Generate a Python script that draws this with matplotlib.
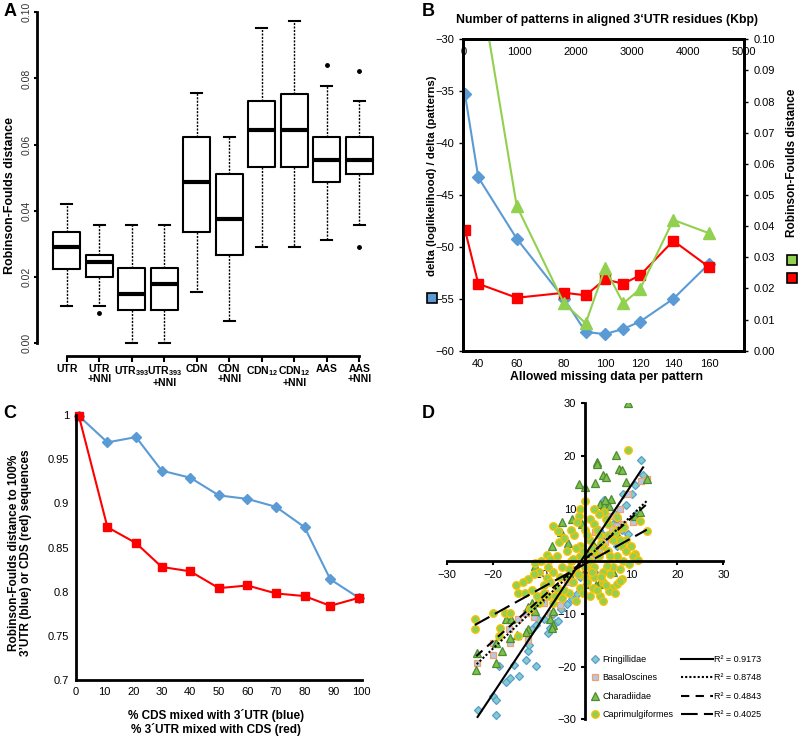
import numpy as np
import matplotlib
matplotlib.use('Agg')
import matplotlib.pyplot as plt
from matplotlib.patches import Rectangle
from matplotlib.ticker import FormatStrFormatter

plt.rcParams['font.family'] = ['Liberation Sans', 'DejaVu Sans']
plt.rcParams['mathtext.fontset'] = 'custom'
plt.rcParams['mathtext.rm'] = 'Liberation Sans:bold'
plt.rcParams['mathtext.default'] = 'rm'

# ---- panel A: RF distance box plots ----
a_labels = ['UTR', 'UTR\n+NNI', r'UTR$_{393}$', 'UTR$_{393}$\n+NNI', 'CDN', 'CDN\n+NNI',
            r'CDN$_{12}$', 'CDN$_{12}$\n+NNI', 'AAS', 'AAS\n+NNI']
a_whislo = [0.0112, 0.0112, 0.0, 0.0, 0.0156, 0.0067, 0.029, 0.029, 0.0311, 0.0358]
a_q1 = [0.0224, 0.0200, 0.0101, 0.0101, 0.0335, 0.0268, 0.0534, 0.0534, 0.0487, 0.0511]
a_med = [0.0290, 0.0246, 0.0150, 0.0178, 0.0487, 0.0377, 0.0645, 0.0645, 0.0555, 0.0555]
a_q3 = [0.0335, 0.0268, 0.0228, 0.0228, 0.0622, 0.0511, 0.0732, 0.0754, 0.0622, 0.0622]
a_whishi = [0.0422, 0.0358, 0.0358, 0.0358, 0.0756, 0.0622, 0.0954, 0.0975, 0.0776, 0.0733]
a_fliers = [[], [0.009], [], [], [], [], [], [], [0.0842], [0.0822, 0.029]]

# ---- panel B: missing data vs patterns ----
b_missing = [30, 40, 60, 80, 90, 100, 110, 120, 140, 160]
b_patterns = [30, 267, 951, 1794, 2180, 2524, 2850, 3147, 3741, 4382]
b_delta = [-35.3, -43.3, -49.2, -55.0, -58.2, -58.4, -57.9, -57.2, -55.0, -51.6]
b_rf_green = [np.nan, 0.121, 0.0465, 0.0152, 0.0088, 0.0265, 0.0152, 0.0198, 0.0420, 0.0377]
b_rf_red = [0.0388, 0.0215, 0.0170, 0.0186, 0.0178, 0.0229, 0.0215, 0.0242, 0.0353, 0.0268]
b_labelled = [40, 60, 80, 100, 120, 140, 160]

# ---- panel C: mixing CDS / 3'UTR ----
c_pct = [1, 11, 21, 30, 40, 50, 60, 70, 80, 89, 99]
c_blue = [0.999, 0.969, 0.975, 0.937, 0.929, 0.909, 0.905, 0.896, 0.873, 0.814, 0.793]
c_red = [0.999, 0.873, 0.855, 0.828, 0.823, 0.804, 0.807, 0.798, 0.795, 0.784, 0.793]

# ---- panel D: scatter per clade ----
d_names = ['Fringillidae', 'BasalOscines', 'Charadiidae', 'Caprimulgiformes']
d_r2 = ['0.9173', '0.8748', '0.4843', '0.4025']
d_slope = [1.32, 0.84, 0.78, 0.485]
d_icept = [1.2, 0.2, 0.4, -0.5]
fr_x = [-23.3, -19.2, -19.9, -19.2, -18.6, -17.2, -16.3, -15.4, -14.3, -12.9, -10.7, -12.3, -12.1,
        -11.6, -10.6, -10.3, -8.0, -7.6, -6.5, -5.8, -9.0, -6.9, -5.1, -4.0, -2.9, -1.8, -3.0, -1.0,
        1.0, 2.0, 2.0, 3.0, 5.0, 4.0, 5.0, 3.0, 7.0, 8.0, 6.0, 7.0, 6.5, 9.3, 9.0, 11.0, 4.1, 8.3,
        10.1, 10.8, 12.6, 12.1]
fr_y = [-28.3, -29.2, -25.6, -26.4, -19.9, -22.9, -22.2, -19.7, -21.8, -18.8, -19.8, -17.1, -15.8,
        -12.9, -12.0, -11.0, -13.7, -12.6, -11.7, -11.3, -11.0, -10.1, -9.1, -8.2, -7.2, -6.3, -4.0, -3.0,
        -1.0, -2.0, 1.0, 3.0, 2.0, 5.0, 4.5, 6.0, 3.0, 6.0, 7.0, 8.0, 9.0, 5.1, 10.6, 9.0, 11.6, 12.7,
        12.7, 14.4, 16.3, 19.2]
bo_x = [-23.5, -19.9, -20.0, -16.3, -16.5, -14.5, -12.3, -12.9, -11.0, -10.1, -9.0, -8.7, -7.7, -6.0,
        -5.4, -4.0, -3.0, -2.0, -1.0, 0.0, 1.0, 3.0, 2.2, 4.3, 5.8, 6.1, 6.9, 5.4, 7.6, 8.3, 10.5, 9.4,
        12.1, 13.4]
bo_y = [-19.3, -17.7, -15.6, -15.6, -12.9, -11.0, -15.0, -9.8, -10.5, -6.8, -8.0, -6.0, -9.9, -5.0,
        -8.3, -4.0, -2.0, -1.5, 0.0, -1.0, 1.0, 2.0, 5.5, 3.6, 6.1, 4.8, 6.7, 8.6, 9.9, 7.0, 7.4, 12.7,
        15.3, 15.6]
ch_x = [9.4, 6.7, 2.5, 2.6, 3.8, 4.6, 7.4, 8.0, -1.4, 0.1, 2.2, 9.0, 13.4, -4.9, -2.9, -0.7, 3.3, 4.1,
        5.6, 4.3, 5.1, 10.8, 11.9, -7.2, -5.1, 6.9, -3.7, 1.0, 2.0, -3.0, -5.5, 3.1, 0.0, 2.4, 6.1,
        -10.8, -9.8, -11.6, -12.3, -10.8, -6.9, -7.6, -6.9, -7.2, -12.4, -12.8, -14.7, -16.3, -17.1,
        -16.1, -19.3, -18.1, -19.2, -23.5, -23.6]
ch_y = [30.0, 20.2, 18.9, 18.4, 16.3, 16.1, 17.6, 17.3, 14.6, 14.2, 14.8, 15.1, 15.6, 7.4, 8.0, 7.0,
        10.8, 10.6, 11.9, 11.7, 10.5, 8.6, 9.3, 2.9, 5.5, 5.1, 3.4, 2.0, 3.0, -3.0, -6.4, -4.4, -4.4,
        -4.5, -2.1, -0.9, -6.9, -7.9, -8.6, -9.4, -9.4, -11.0, -12.0, -12.6, -12.9, -13.4, -13.9, -14.5,
        -11.0, -11.0, -15.5, -17.1, -19.3, -17.4, -20.7]
cp_x = [9.4, 0.1, -1.4, -1.8, -7.0, -5.8, -5.6, -2.4, -10.8, -8.3, 13.4, 11.9, 10.8, 4.1, 6.9,
        -23.9, -23.9, -19.9, -17.4, -16.3, -18.4, -18.6, -14.5, -14.5, -13.0, -12.3, -8.3, -11.5, -10.0,
        -9.0, -7.0, -6.0, -5.0, -4.0, -3.0, -2.0, -1.0, 0.0, 1.0, 2.0, 3.0, 4.0, 5.0, 6.0, 7.0, 8.0,
        9.0, 3.0, 1.0, -1.0, 2.0, 4.0, 6.0, 3.3, 5.8, 6.9, 8.0, 1.8, 10.5, 8.3, 4.7, 5.1, 7.6, -4.0,
        -6.0, -8.0, -3.0, -2.0, 0.0, 1.0, 2.0, 3.0, 5.0, 5.0, 7.0, 9.0, 10.0, -12.0, -10.0, -8.0,
        -7.0, -5.0, 0.0, -1.0, 2.0, 4.0, -15.0, -9.5, -3.5, 1.0, 11.5,
        -9.0, -7.5, -6.5, -5.5, -4.5, -3.5, -2.5, -1.5, -0.5, 0.5, 1.5, 2.5, 3.5, 4.5, 5.5, 6.5, 7.5,
        9.5, -0.5, 0.5, 1.5, 2.5, 3.5, 4.5, 5.5, 6.5, 7.5, 8.5, -2.5, -4.5, -7.5, -11.0, -13.5, -10.5,
        2.0, -1.0, 4.0, -2.0]
cp_y = [21.2, 11.5, 8.6, 7.4, 6.7, 5.8, 3.6, 4.9, -0.4, 1.2, 5.8, 7.7, 1.3, 9.3, 8.5,
        -11.0, -12.8, -9.8, -9.8, -9.8, -12.6, -14.1, -14.2, -6.0, -6.0, -3.4, -3.1, -5.5, -2.0,
        -4.5, -2.0, -5.0, -1.0, -3.0, 0.0, -2.0, 1.0, -1.0, 0.0, 2.0, 1.0, 3.0, 2.0, 4.0, 1.0, 3.0,
        2.0, 5.0, 4.0, 3.0, -1.0, -2.0, -1.0, -6.6, -5.0, -4.4, -3.4, -5.0, 1.0, 0.1, -0.9, -5.6, -3.7,
        2.0, 1.0, -1.0, 6.0, 2.5, 6.0, 8.0, 7.0, 9.0, 7.0, 5.0, 6.0, 4.0, 3.0, -9.0, -8.0, -6.5,
        -8.0, -7.0, -3.0, -5.0, -3.0, -4.0, -4.5, 0.0, -6.0, -6.5, 0.2,
        -6.0, -4.0, -6.5, -3.0, -5.5, -1.5, -4.0, -2.5, -6.0, -4.0, -2.0, -5.5, -3.0, -4.5, -2.5, -6.0,
        -1.5, -0.5, 2.0, 5.0, 2.5, 6.0, 3.5, 8.0, 1.0, 5.5, 4.0, 6.5, 0.5, 4.5, 0.5, -2.5, -4.0, -6.5,
        10.0, 10.0, -7.5, -7.5]

W, H = 800, 738
fig = plt.figure(figsize=(8, 7.38), dpi=100)


def add_ax(l, t, r, b):
    return fig.add_axes([l / W, 1 - b / H, (r - l) / W, (b - t) / H])


def ftext(x, y, s, **kw):
    kw.setdefault('ha', 'center')
    kw.setdefault('va', 'center')
    fig.text(x / W, 1 - y / H, s, **kw)


# ================= A =================
axA = add_ax(37.3, 8, 388.5, 355.7)
stats = []
for i in range(10):
    stats.append(dict(med=a_med[i], q1=a_q1[i], q3=a_q3[i], whislo=a_whislo[i],
                      whishi=a_whishi[i], fliers=a_fliers[i]))
axA.bxp(stats, positions=range(1, 11), widths=0.82, capwidths=0.34,
        boxprops=dict(lw=1.5, color='black'),
        whiskerprops=dict(ls=(0, (1.5, 1)), lw=1, color='black'),
        capprops=dict(lw=1.5, color='black'),
        medianprops=dict(lw=3, color='black'),
        flierprops=dict(marker='o', ms=2.5, mfc='black', mec='black'))
axA.set_xlim(0.096, 10.9)
axA.set_ylim(-0.00375, 0.1 + 4.3 / 3310)
for s in ['top', 'right']:
    axA.spines[s].set_visible(False)
axA.spines['left'].set_bounds(0, 0.1)
axA.spines['bottom'].set_bounds(1, 10)
axA.spines['left'].set_linewidth(2)
axA.spines['bottom'].set_linewidth(2)
axA.set_yticks(np.arange(0, 0.101, 0.02))
axA.set_yticklabels(['%.2f' % v for v in np.arange(0, 0.101, 0.02)], rotation=90, va='center',
                    fontsize=7.5, color='#333333')
axA.set_xticks(range(1, 11))
axA.set_xticklabels(a_labels, fontsize=7.5, fontweight='bold', linespacing=1.0)
axA.tick_params(axis='y', length=2.5, width=1.5, pad=1.5)
axA.tick_params(axis='x', length=4, width=1.5, pad=2)
ftext(10, 195, 'Robinson-Foulds distance', rotation=90, fontsize=9, fontweight='bold')
ftext(10, 12, 'A', fontsize=13, fontweight='bold')

# ================= B =================
axB = add_ax(463.3, 39.3, 744.3, 350.7)
axB.set_xlim(0, 5005)
axB.set_ylim(-60, -30)
axB.plot(b_patterns, b_delta, color='#5b9bd5', marker='D', ms=6, lw=1.5)
axBr = axB.twinx()
axBr.set_ylim(0, 0.1)
axBr.plot(b_patterns, b_rf_red, color='#ff0000', marker='s', ms=7, lw=1.5)
axBr.plot(b_patterns, b_rf_green, color='#92d050', marker='^', ms=8, lw=1.5)
for a in (axB, axBr):
    for s in a.spines.values():
        s.set_linewidth(2)
tick_pos = [b_patterns[b_missing.index(m)] for m in b_labelled]
axB.set_xticks(tick_pos)
axB.set_xticklabels([str(m) for m in b_labelled], fontsize=8)
axB.tick_params(axis='x', length=0, pad=6)
axB.set_yticks(range(-60, -29, 5))
axB.tick_params(axis='y', labelsize=8, length=3, width=1)
axBr.set_yticks(np.arange(0, 0.1001, 0.01))
axBr.yaxis.set_major_formatter(FormatStrFormatter('%.2f'))
axBr.tick_params(axis='y', labelsize=8, length=3, width=1)
top = axB.secondary_xaxis('top')
top.set_xticks(range(0, 5001, 1000))
top.tick_params(axis='x', direction='in', length=0, pad=-13, labelsize=8)
top.spines['top'].set_linewidth(2)
ftext(607, 20, 'Number of patterns in aligned 3\u2018UTR residues (Kbp)', fontsize=8.8, fontweight='bold')
ftext(607, 377, 'Allowed missing data per pattern', fontsize=8.8, fontweight='bold')
ftext(431.7, 176, 'delta (loglikelihood) / delta (patterns)', rotation=90, fontsize=8.2, fontweight='bold')
ftext(791.7, 163, 'Robinson-Foulds distance', rotation=90, fontsize=8.5, fontweight='bold')
for (x, y, c) in [(431.7, 298.3, '#5b9bd5'), (791.7, 260, '#92d050'), (791.7, 277.7, '#ff0000')]:
    fig.add_artist(Rectangle(((x - 5) / W, 1 - (y + 5) / H), 10 / W, 10 / H, facecolor=c,
                             edgecolor='black', lw=1.2, transform=fig.transFigure))
ftext(428, 12, 'B', fontsize=13, fontweight='bold')

# ================= C =================
axC = add_ax(76, 415, 361.7, 680)
axC.plot(c_pct, c_blue, color='#5b9bd5', marker='D', ms=5.5, lw=1.5, clip_on=False)
axC.plot(c_pct, c_red, color='#ff0000', marker='s', ms=5.5, lw=1.5, clip_on=False)
axC.set_xlim(0, 100)
axC.set_ylim(0.7, 1.0)
for s in ['top', 'right']:
    axC.spines[s].set_visible(False)
axC.spines['left'].set_linewidth(2)
axC.spines['bottom'].set_linewidth(2)
axC.set_xticks(range(0, 101, 10))
axC.set_yticks(np.arange(0.7, 1.001, 0.05))
axC.set_yticklabels(['0.7', '0.75', '0.8', '0.85', '0.9', '0.95', '1'])
axC.tick_params(labelsize=8, length=0, pad=5)
ftext(20, 553, 'Robinson-Foulds distance to 100%\n3\u2019UTR (blue) or CDS (red) sequences',
      rotation=90, fontsize=8.5, fontweight='bold', linespacing=1.1)
ftext(216, 722, '% CDS mixed with 3\u00b4UTR (blue)\n% 3\u00b4UTR mixed with CDS (red)',
      fontsize=8.5, fontweight='bold', linespacing=1.1)
ftext(10, 413, 'C', fontsize=13, fontweight='bold')

# ================= D =================
axD = add_ax(446.7, 403.3, 723.3, 719.3)
series = [(fr_x, fr_y, 'D', 4, '#7fcfc4', '#5b9bd5'),
          (bo_x, bo_y, 's', 5, '#b4c7e7', '#f4a06a'),
          (ch_x, ch_y, '^', 5.5, '#7cc04e', '#4e8a30'),
          (cp_x, cp_y, 'o', 5.5, '#92d050', '#ffc000')]
styles = ['-', (0, (1, 1)), (0, (4, 3)), (0, (8, 3))]
handles = []
for (xs, ys, m, ms, fc, ec) in series:
    h, = axD.plot(xs, ys, ls='none', marker=m, ms=ms, mfc=fc, mec=ec, mew=0.9)
    handles.append(h)
line_handles = []
for i, (xs, ys, m, ms, fc, ec) in enumerate(series):
    xr = np.array([min(xs), max(xs)])
    l, = axD.plot(xr, d_slope[i] * xr + d_icept[i], color='black', lw=1.5, ls=styles[i])
    line_handles.append(l)
axD.set_xlim(-30, 30)
axD.set_ylim(-30, 30)
for s in ['top', 'right']:
    axD.spines[s].set_visible(False)
for s in ['left', 'bottom']:
    axD.spines[s].set_position('zero')
    axD.spines[s].set_linewidth(2)
axD.set_xticks(range(-30, 31, 10))
axD.set_yticks(range(-30, 31, 10))
axD.tick_params(labelsize=8, length=3, width=1.5)
leg1 = axD.legend(handles, d_names, loc='upper left', bbox_to_anchor=(591 / W, 1 - 655 / H),
                  bbox_transform=fig.transFigure, frameon=False, fontsize=6.5, handlelength=0.8,
                  handletextpad=0.5, labelspacing=1.05, borderpad=0, borderaxespad=0)
axD.add_artist(leg1)
axD.legend(line_handles, ['R\u00b2 = ' + r for r in d_r2], loc='upper left',
           bbox_to_anchor=(681 / W, 1 - 655 / H), bbox_transform=fig.transFigure, frameon=False,
           fontsize=6.5, handlelength=3.5, handletextpad=0.2, labelspacing=1.05, borderpad=0,
           borderaxespad=0)
ftext(428, 413, 'D', fontsize=13, fontweight='bold')

fig.savefig('out.png', dpi=100)
